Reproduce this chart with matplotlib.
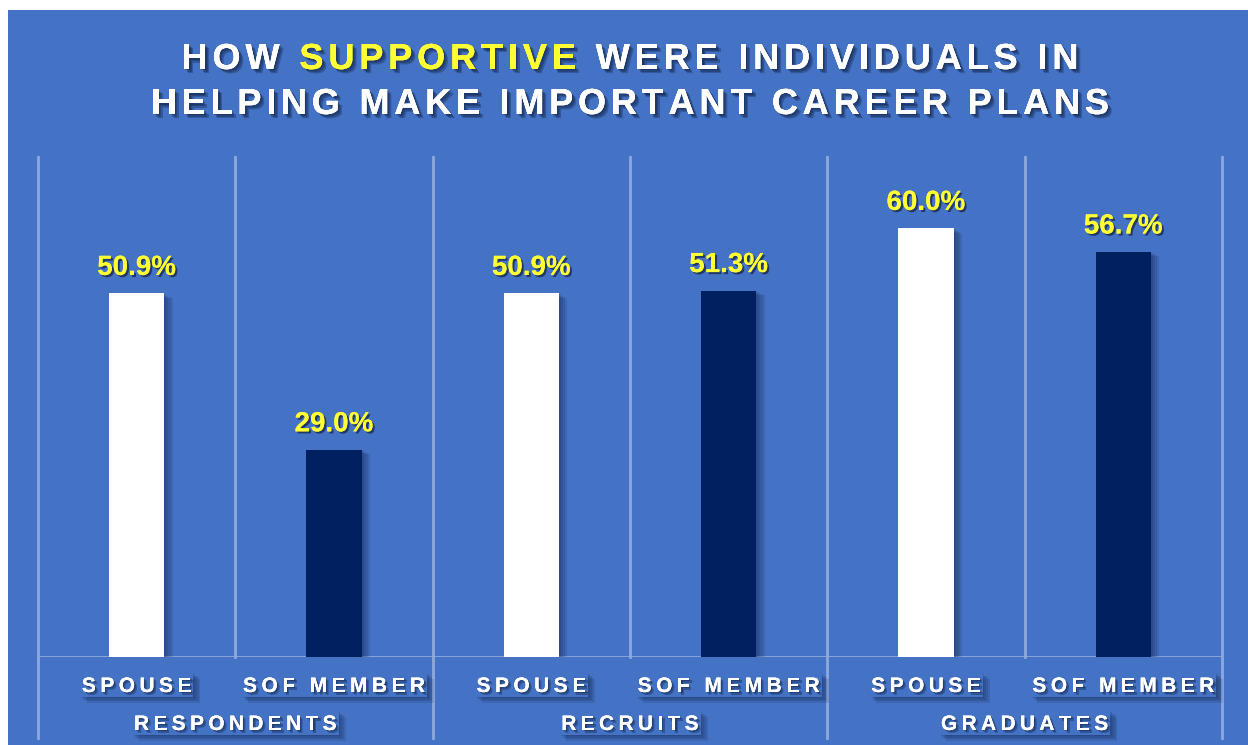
import matplotlib
matplotlib.use("Agg")
import matplotlib.pyplot as plt
import matplotlib.patheffects as pe
from matplotlib.patches import Rectangle
from matplotlib.font_manager import FontProperties

groups = ["RESPONDENTS", "RECRUITS", "GRADUATES"]
roles = ["SPOUSE", "SOF MEMBER"]
spouse = [50.9, 50.9, 60.0]
sof_member = [29.0, 51.3, 56.7]

W, H = 1248, 745
BG = "#4472C4"
NAVY = "#002060"
GRID = "#8FAADC"
SHADOW = "#0b1a3a"
FONT = ["Liberation Sans", "DejaVu Sans"]


def soft_shadow(dx, dy, steps, alpha):
    # a few stacked offsets so the shadow looks a bit blurred
    fx = []
    for k in range(steps, 0, -1):
        f = k / steps
        fx.append(pe.withSimplePatchShadow(offset=(dx * f, dy * f), shadow_rgbFace=SHADOW, alpha=alpha))
    fx.append(pe.Normal())
    return fx


fig = plt.figure(figsize=(W / 100, H / 100), dpi=100, facecolor="white")
fig.patches.append(Rectangle((8 / W, 0), 1240 / W, 735 / H, transform=fig.transFigure,
                             facecolor=BG, edgecolor="none", zorder=-10))

# axes box in pixels: x 38..1222, y 157..657 (from top)
ax = fig.add_axes([38 / W, (H - 657) / H, (1222 - 38) / W, 500 / H])
ax.set_facecolor("none")
ax.set_xlim(-0.5, 5.5)
ax.set_ylim(0, 70)
for s in ax.spines.values():
    s.set_visible(False)
ax.set_yticks([])
ax.set_xticks([])

bar_fx = soft_shadow(6, -3, 4, 0.12)
val_fx = [pe.withSimplePatchShadow(offset=(1.5, -1.5), shadow_rgbFace="#1a2a50", alpha=0.8), pe.Normal()]

for i in range(len(groups)):
    for j, (vals, col) in enumerate([(spouse, "white"), (sof_member, NAVY)]):
        x = 2 * i + j
        b = ax.bar(x, vals[i], width=0.28, color=col, zorder=3)
        b[0].set_path_effects(bar_fx)
        ax.annotate(f"{vals[i]:.1f}%", (x, vals[i]), xytext=(0, 9), textcoords="offset points",
                    ha="center", va="bottom", fontsize=20, fontweight="bold", color="#FFFF33",
                    family=FONT, path_effects=val_fx, zorder=4)

# grid lines
xt = ax.get_xaxis_transform()
for k in range(7):
    x = k - 0.5
    low = -0.162 if k % 2 == 0 else 0
    ax.plot([x, x], [low, 1], color=GRID, lw=2, transform=xt, clip_on=False, zorder=1)
ax.axhline(0, color=GRID, lw=2, zorder=2)

# letter-spaced text
renderer = fig.canvas.get_renderer()


def char_width(ch, fp):
    if ch == " ":
        a = renderer.get_text_width_height_descent("H H", fp, ismath=False)[0]
        b = renderer.get_text_width_height_descent("HH", fp, ismath=False)[0]
        return a - b
    return renderer.get_text_width_height_descent(ch, fp, ismath=False)[0]


def spaced(xc, ybase, parts, size, gap, effects, box=False):
    fp = FontProperties(family=FONT, weight="bold", size=size)
    chars = [(ch, c) for s, c in parts for ch in s]
    widths = [char_width(ch, fp) for ch, _ in chars]
    total = sum(widths) + gap * (len(chars) - 1)
    x = xc - total / 2
    if box:
        r = Rectangle(((x - 2) / W, (H - ybase - 5) / H), (total + 4) / W, 24 / H,
                      transform=fig.transFigure, facecolor=BG, edgecolor="none", zorder=1)
        r.set_path_effects(soft_shadow(5, -4, 4, 0.13))
        fig.patches.append(r)
    for (ch, c), w in zip(chars, widths):
        if ch != " ":
            fig.text(x / W, (H - ybase) / H, ch, fontproperties=fp, color=c,
                     ha="left", va="baseline", path_effects=effects, zorder=5)
        x += w + gap


title_fx = soft_shadow(3, -3, 3, 0.3)
spaced(630, 69, [("HOW ", "white"), ("SUPPORTIVE", "#FFFF33"), (" WERE INDIVIDUALS IN", "white")],
       26, 4.9, title_fx)
spaced(630, 114, [("HELPING MAKE IMPORTANT CAREER PLANS", "white")], 26, 4.8, title_fx)

lab_fx = soft_shadow(2, -2, 2, 0.35)
cat_w = (1222 - 38) / 6
for i, g in enumerate(groups):
    for j, r in enumerate(roles):
        xc = 38 + cat_w * (2 * i + j + 0.5)
        spaced(xc, 692, [(r, "white")], 15, 4.5, lab_fx, box=True)
    spaced(38 + cat_w * (2 * i + 1), 730, [(g, "white")], 15, 4.4, lab_fx, box=True)

fig.savefig("out.png", dpi=100, facecolor="white")
